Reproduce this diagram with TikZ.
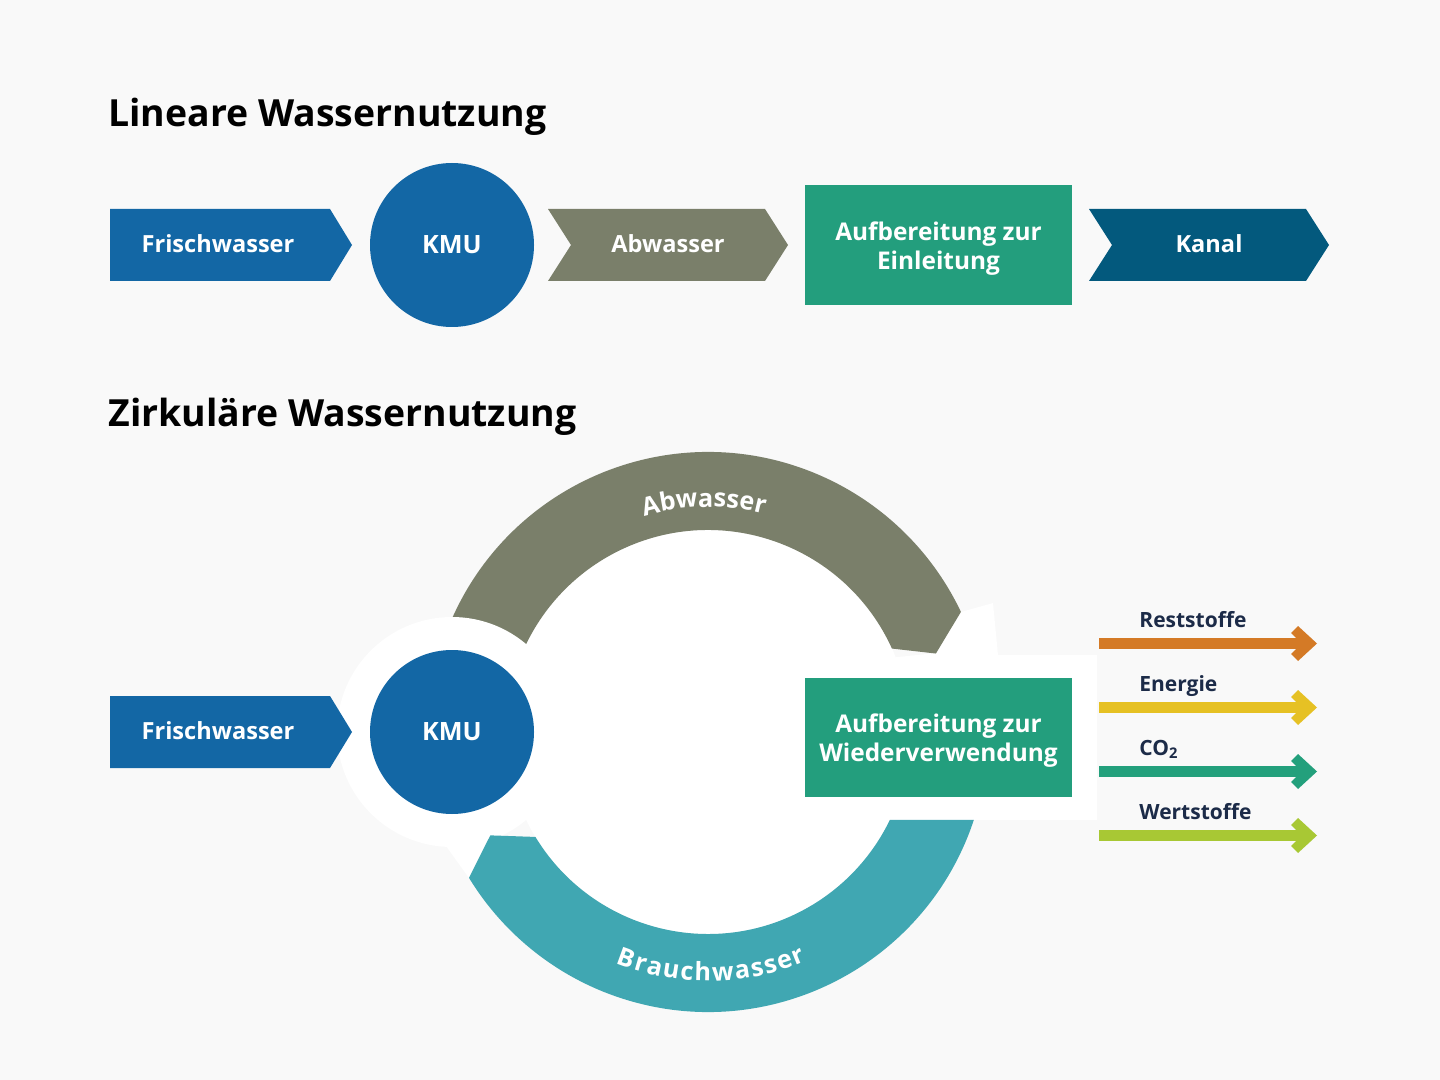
\documentclass[tikz,border=0pt]{standalone}
\usepackage{fontspec}
\setmainfont{Open Sans}
\usetikzlibrary{calc,decorations.text}
\definecolor{bgc}{HTML}{F9F9F9}
\definecolor{fblue}{HTML}{1367A5}
\definecolor{agray}{HTML}{7A7F6A}
\definecolor{agreen}{HTML}{239E7D}
\definecolor{kblue}{HTML}{03597D}
\definecolor{bteal}{HTML}{40A7B2}
\definecolor{navy}{HTML}{1C2B48}
\definecolor{rorange}{HTML}{D47A26}
\definecolor{eyellow}{HTML}{E6C124}
\definecolor{cgreen}{HTML}{23A07C}
\definecolor{wlime}{HTML}{A8C834}
\begin{document}
\begin{tikzpicture}[x=0.5pt,y=-0.5pt,
  lbl/.style={font=\fontsize{11.8}{14}\selectfont\bfseries, text=white, inner sep=0, anchor=base},
  arcl/.style={font=\fontsize{12.6}{14}\selectfont\bfseries, text=white, inner sep=0, anchor=base},
  boxtxt/.style={font=\fontsize{12.2}{14.5}\selectfont\bfseries, text=white, inner sep=0, align=center},
  ttl/.style={font=\fontsize{18.7}{23}\selectfont\bfseries, text=black, anchor=base west, inner sep=0},
  side/.style={font=\fontsize{10.5}{13}\selectfont\bfseries, text=navy, anchor=base west, inner sep=0},
  kmu/.style={circle, fill=fblue, minimum size=82pt, inner sep=0, font=\fontsize{12.6}{14}\selectfont\bfseries, text=white},
  gbox/.style={rectangle, fill=agreen, minimum width=133.5pt, minimum height=60pt, inner sep=0},
  gbox2/.style={rectangle, fill=agreen, minimum width=133.5pt, minimum height=59.5pt, inner sep=0}
]
\fill[bgc] (0,0) rectangle (1440,1080);
\useasboundingbox (0,0) rectangle (1440,1080);

% ---------------- Linear ----------------
\node[ttl] (t1) at (108,127) {Lineare Wassernutzung};

\fill[fblue] (110,209) -- (330,209) -- (352,245) -- (330,281) -- (110,281) -- cycle;
\node[lbl] (fw1) at (218,252.5) {Frischwasser};

\node[kmu] (kmu1) at (452,245) {KMU};

\fill[agray] (548,209) -- (765,209) -- (788,245) -- (765,281) -- (548,281) -- (571,245) -- cycle;
\node[lbl] (aw1) at (668,252.5) {Abwasser};

\node[gbox] (ab1) at (938.5,245) {};
\node[boxtxt] (ab1t) at (938.5,248.5) {Aufbereitung zur\\Einleitung};

\fill[kblue] (1089,209) -- (1306,209) -- (1329,245) -- (1306,281) -- (1089,281) -- (1112,245) -- cycle;
\node[lbl] (ka) at (1209,252.5) {Kanal};

% ---------------- Circular ----------------
\node[ttl] (t2) at (108,427) {Zirkuläre Wassernutzung};

\coordinate (C) at (708,732);
\fill[white] (C) circle[radius=202];
% white area right
\fill[white] (961,612) -- (993,603) -- (998,655) -- (1097,655) -- (1097,820) -- (870,820) -- (870,660) -- (936,653) -- cycle;

% Abwasser arc
\fill[agray] ($(C)+(-157:280)$) arc[start angle=-157,end angle=-25.4,radius=280]
  -- ($(C)+(-19:241)$) -- ($(C)+(-24.4:202)$)
  arc[start angle=-24.4,end angle=-157,radius=202] -- cycle;

% halo round KMU
\fill[white] (452,732) circle[radius=115];
\fill[white] (446,846) -- (469,878) -- (490,835) -- (452,820) -- cycle;

% Brauchwasser arc
\fill[bteal] ($(C)+(18.3:280)$) arc[start angle=18.3,end angle=148.6,radius=280]
  -- ($(C)+(154.6:241)$) -- ($(C)+(148.7:202)$)
  arc[start angle=148.7,end angle=25.8,radius=202] -- cycle;

% arc labels
\path[decorate, decoration={text along path, text align=center,
  text={|\bfseries\fontsize{12.6}{14}\selectfont\color{white}|Abwasser}}]
  ($(C)+(-151:225)$) arc[start angle=-151,end angle=-31,radius=225];
\foreach \ch/\a [count=\i] in {B/109.83, r/106.21, a/102.78, u/98.75, c/94.99, h/91.23, w/86.44, a/81.81, s/78.25, s/75.0, e/71.49, r/68.13}{
  \node[arcl, rotate=90-\a] (bw\i) at ($(C)+(\a:249)$) {\ch};
}

\fill[fblue] (110,696) -- (330,696) -- (352,732) -- (330,768) -- (110,768) -- cycle;
\node[lbl] (fw2) at (218,739.5) {Frischwasser};

\node[kmu] (kmu2) at (452,732) {KMU};

\node[gbox2] (ab2) at (938.5,737.5) {};
\node[boxtxt] (ab2t) at (938.5,741) {Aufbereitung zur\\Wiederverwendung};

% output arrows
\foreach \yy/\col/\nm/\txt in {643.5/rorange/rs/Reststoffe, 707.5/eyellow/en/Energie, 771.5/cgreen/co/CO\textsubscript{2}, 835.5/wlime/ws/Wertstoffe}{
  \fill[\col] (1099,\yy-5.5) rectangle (1306,\yy+5.5);
  \fill[\col] (1317,\yy) -- (1298,\yy-17.5) -- (1291,\yy-10.5) -- (1302,\yy) -- (1291,\yy+10.5) -- (1298,\yy+17.5) -- cycle;
  \node[side] (\nm) at (1139,\yy-16) {\txt};
}
\end{tikzpicture}
\end{document}
